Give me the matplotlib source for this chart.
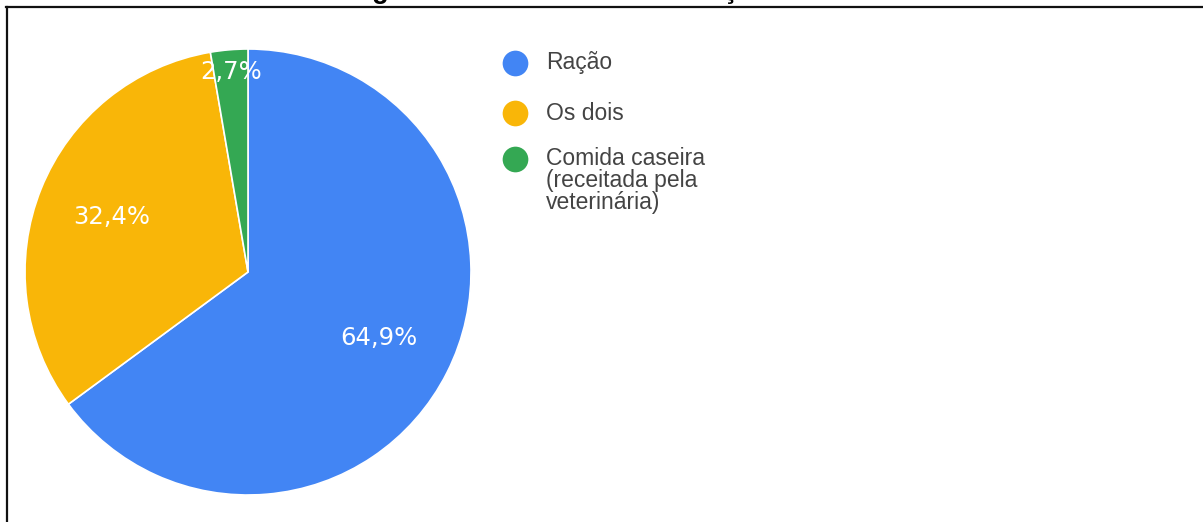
import matplotlib.pyplot as plt
import numpy as np
from matplotlib.lines import Line2D

W, H = 1203, 522

# tipo de alimentação
categorias = ["Ração", "Os dois", "Comida caseira\n(receitada pela\nveterinária)"]
valores = [64.9, 32.4, 2.7]
cores = ["#4285F4", "#F9B608", "#34A853"]
rotulos = [f"{v:.1f}%".replace(".", ",") for v in valores]

fig = plt.figure(figsize=(W / 100, H / 100), dpi=100)
ax = fig.add_axes([0, 0, 1, 1])

cx, cy, r = 248, H - 272, 223
wedges, _ = ax.pie(valores, colors=cores, startangle=90, counterclock=False,
                   center=(cx, cy), radius=r,
                   wedgeprops=dict(edgecolor="white", linewidth=1.2))
ax.set_xlim(0, W)
ax.set_ylim(0, H)
ax.set_aspect("equal")
ax.axis("off")

# small slice label sits further out, near the rim
dists = [0.66, 0.66, 0.90]
for w, txt, d in zip(wedges, rotulos, dists):
    th = np.deg2rad((w.theta1 + w.theta2) / 2)
    ax.text(cx + r * d * np.cos(th), cy + r * d * np.sin(th), txt,
            color="white", fontsize=17.5, family="DejaVu Sans",
            ha="center", va="center")

# legend
leg_y = [63, 113, 159]
for c, lab, y in zip(cores, categorias, leg_y):
    ax.plot(515, H - y, "o", ms=18.5, color=c, mec="none")
    if "\n" in lab:
        # multi-line entry: first line centred on the marker
        ax.text(546, H - y + 12, lab, fontsize=16.5, family="Liberation Sans",
                color="#444444", ha="left", va="top", linespacing=0.95)
    else:
        ax.text(546, H - y, lab, fontsize=16.5, family="Liberation Sans",
                color="#444444", ha="left", va="center")

# caption cut off at the top edge
fig.text(348 / W, 1 + 1.5 / H, "Figura 7 – Forma de alimentação",
         fontsize=19.5, fontweight="bold", family="Liberation Sans",
         ha="left", va="baseline")

# frame lines
fig.add_artist(Line2D([5.5 / W, 1], [1 - 6.5 / H, 1 - 6.5 / H], color="#111111",
                      lw=1.6, transform=fig.transFigure))
fig.add_artist(Line2D([6.5 / W, 6.5 / W], [0, 1 - 6.5 / H], color="#111111",
                      lw=1.6, transform=fig.transFigure))

fig.savefig("out.png", dpi=100)
